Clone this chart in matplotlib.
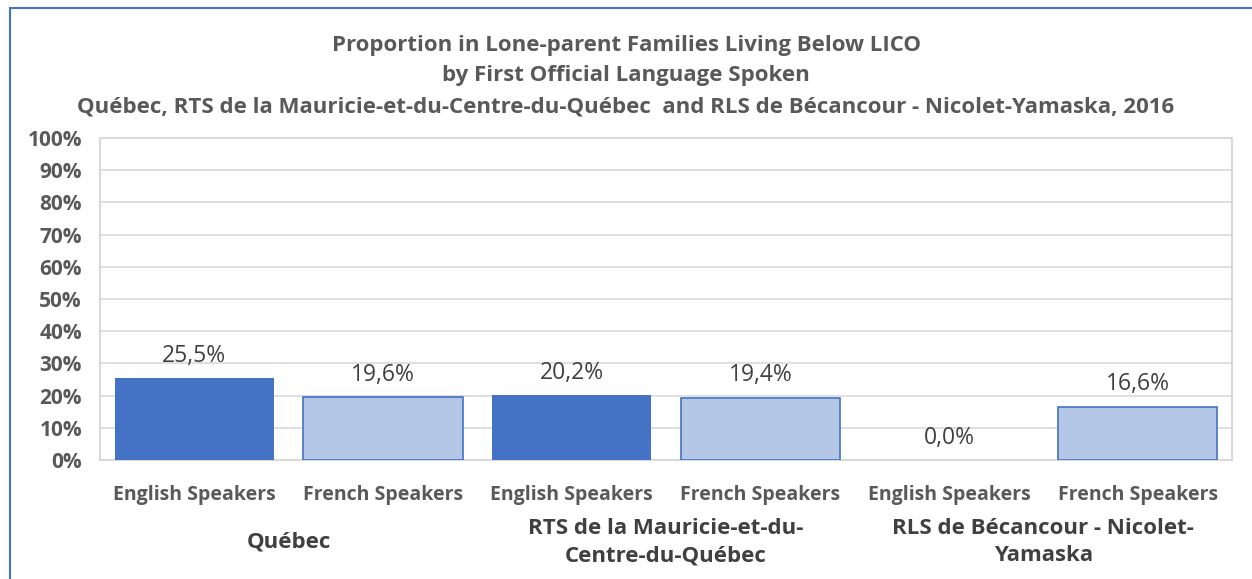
import numpy as np
import matplotlib.pyplot as plt
from matplotlib.patches import Rectangle

plt.rcParams['font.family'] = ['Open Sans', 'DejaVu Sans']

groups = ["Québec", "RTS de la Mauricie-et-du-\nCentre-du-Québec", "RLS de Bécancour - Nicolet-\nYamaska"]
speakers = ["English Speakers", "French Speakers"]
english = [25.5, 20.2, 0.0]
french = [19.6, 19.4, 16.6]

dark = "#4472C4"
light = "#B4C7E7"
txt = "#595959"

fig = plt.figure(figsize=(12.52, 5.79), dpi=100)
ax = fig.add_axes([100 / 1252, 1 - 460 / 579, 1132 / 1252, 322 / 579])

# outer frame of the chart
fig.patches.append(Rectangle((10 / 1252, -0.05), 1.1, 1 - 8 / 579 + 0.05, transform=fig.transFigure,
                             fill=False, edgecolor=dark, linewidth=1.5))

x = np.arange(6)
xe = x[0::2]
xf = x[1::2]
ax.bar(xe, english, width=0.845, color=dark, linewidth=0, zorder=3)
ax.bar(xf, french, width=0.845, color=light, edgecolor=dark, linewidth=1.2, zorder=3)

for xi, v in zip(list(xe) + list(xf), english + french):
    ax.text(xi, v + 3.2, f"{v:.1f}%".replace(".", ","), ha="center", va="bottom",
            fontsize=16.5, color="#404040")

ax.set_xlim(-0.5, 5.5)
ax.set_ylim(0, 100)
ax.set_yticks(np.arange(0, 101, 10))
ax.set_yticklabels([f"{t}%" for t in range(0, 101, 10)], fontsize=15, fontweight="bold", color=txt)
ax.yaxis.grid(True, color="#D9D9D9", linewidth=1.2, zorder=0)
ax.set_axisbelow(True)
ax.tick_params(axis="both", length=0)
ax.tick_params(axis="y", pad=13)
ax.set_xticks(x)
ax.set_xticklabels(speakers * 3, fontsize=14, fontweight="bold", color=txt)
ax.tick_params(axis="x", pad=18)
for s in ax.spines.values():
    s.set_color("#D9D9D9")
    s.set_linewidth(1.5)

for i, g in enumerate(groups):
    ax.text(2 * i + 0.5, -0.255, g, transform=ax.get_xaxis_transform(), ha="center", va="center",
            fontsize=16, fontweight="bold", color="#404040", linespacing=1.4)

fig.text(0.5, 1 - 45 / 579, "Proportion in Lone-parent Families Living Below LICO", ha="center", va="center",
         fontsize=16, fontweight="bold", color=txt)
fig.text(0.5, 1 - 75 / 579, "by First Official Language Spoken", ha="center", va="center",
         fontsize=16, fontweight="bold", color=txt)
fig.text(0.5, 1 - 107 / 579,
         "Québec, RTS de la Mauricie-et-du-Centre-du-Québec  and RLS de Bécancour - Nicolet-Yamaska, 2016",
         ha="center", va="center", fontsize=16, fontweight="bold", color=txt)

fig.savefig("out.png", dpi=100)
